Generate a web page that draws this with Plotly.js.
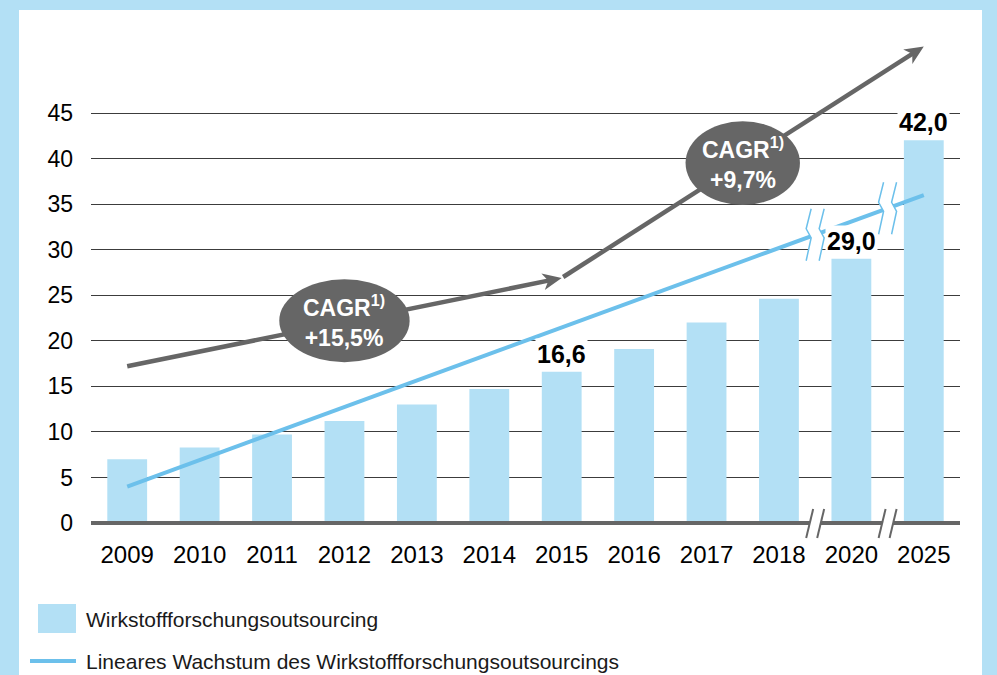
<!DOCTYPE html>
<html><head><meta charset="utf-8">
<script src="https://cdn.plot.ly/plotly-3.0.1.min.js"></script>
<style>html,body{margin:0;padding:0;background:#B3E0F5;} #chart{width:997px;height:675px;}</style>
</head><body><div id="chart"></div>
<script>
// ---- data ----
const years = ['2009','2010','2011','2012','2013','2014','2015','2016','2017','2018','2020','2025'];
const outsourcing = [7.0, 8.3, 9.7, 11.2, 13.0, 14.7, 16.6, 19.1, 22.0, 24.6, 29.0, 42.0];
const labelYears = ['2015','2020','2025'];
const labelTexts = ['16,6','29,0','42,0'];
const trendYears = ['2009','2025'];
const trendValues = [4.0, 36.0];
const breakAfter = ['2018','2020'];
const cagrTexts = ['CAGR<sup>1)</sup><br>+15,5%', 'CAGR<sup>1)</sup><br>+9,7%'];
const cagrFromYear = ['2009','2015'];
const cagrFromValue = [17.2, 27.0];
const cagrToYear = ['2015','2025'];
const cagrToValue = [26.9, 52.3];
const cagrBubbleYear = ['2012','2017'];
const cagrBubbleShift = [0, 0.5];
const cagrBubbleValue = [22.2, 39.5];
const legendNames = ['Wirkstoffforschungsoutsourcing','Lineares Wachstum des Wirkstoffforschungsoutsourcings'];
const yTicks = [0,5,10,15,20,25,30,35,40,45];

// ---- styling / geometry ----
const FONT = 'Liberation Sans, Arial, sans-serif';
const BAR = '#B3E0F5', LINE = '#6CC0EB', GRAY = '#666666';
const M = {l:91, r:37, t:108, b:152};
const W = 997 - M.l - M.r, H = 675 - M.t - M.b;
const YMAX = 45.55;
const N = years.length;
const idx = y => years.indexOf(y);
const xp = i => (i + 0.5) / N;          // category index -> paper
const yp = v => v / YMAX;               // value -> paper
const pX = px => (px - M.l) / W;        // page px -> paper
const pY = py => (675 - M.b - py) / H;
const pxPerIdx = W / N, pxPerVal = H / YMAX;

const shapes = [];
// white panel
shapes.push({type:'rect', layer:'below', xref:'paper', yref:'paper', x0:pX(19), x1:pX(982), y0:pY(690), y1:pY(10), fillcolor:'white', line:{width:0}});
// axis line
shapes.push({type:'line', layer:'above', xref:'paper', yref:'paper', x0:0, x1:1, y0:0, y1:0, line:{color:GRAY, width:4}});

function pixPath(pts, close){
  return 'M' + pts.map(p => p[0].toFixed(2)+','+p[1].toFixed(2)).join(' L') + (close ? ' Z' : '');
}
function pixShape(ax, ay, pts, close, fill, lineSpec){
  return {type:'path', layer:'above', xref:'paper', yref:'paper', xsizemode:'pixel', ysizemode:'pixel',
    xanchor:ax, yanchor:ay, path:pixPath(pts, close), fillcolor:fill, line:lineSpec};
}
const i0 = idx(trendYears[0]), i1 = idx(trendYears[1]);
const trendAt = i => trendValues[0] + (trendValues[1]-trendValues[0]) * (i - i0) / (i1 - i0);

breakAfter.forEach(y => {
  const bi = idx(y) + 0.5;
  // axis break
  const A = [[-9,-15],[-2,14]], B = [[2,-15],[9,14]];
  shapes.push(pixShape(xp(bi), 0, [A[0],A[1],B[1],B[0]], true, 'white', {width:0}));
  shapes.push(pixShape(xp(bi), 0, A, false, 'rgba(0,0,0,0)', {color:GRAY, width:2}));
  shapes.push(pixShape(xp(bi), 0, B, false, 'rgba(0,0,0,0)', {color:GRAY, width:2}));
  // trend line break
  const zig = dx => [[dx+3, 26],[dx-2, 6],[dx+3, -3],[dx-2, -26]];
  const L1 = zig(-7), R1 = zig(6);
  const ty = yp(trendAt(bi));
  shapes.push(pixShape(xp(bi), ty, L1.concat(R1.slice().reverse()), true, 'white', {width:0}));
  shapes.push(pixShape(xp(bi), ty, L1, false, 'rgba(0,0,0,0)', {color:LINE, width:1.5}));
  shapes.push(pixShape(xp(bi), ty, R1, false, 'rgba(0,0,0,0)', {color:LINE, width:1.5}));
});

// CAGR arrows
for (let k = 0; k < cagrTexts.length; k++) {
  const a = idx(cagrFromYear[k]) + (k === 1 ? 0.02 : 0), b = idx(cagrToYear[k]);
  const dx = (b - a) * pxPerIdx, dy = (cagrToValue[k] - cagrFromValue[k]) * pxPerVal;
  const len = Math.hypot(dx, dy), ux = dx/len, uy = dy/len;
  const hx = xp(b), hy = yp(cagrToValue[k]);
  shapes.push({type:'line', layer:'above', xref:'paper', yref:'paper',
    x0:xp(a), y0:yp(cagrFromValue[k]), x1:hx - ux*10/W, y1:hy - uy*10/H,
    line:{color:GRAY, width:4.5}});
  const Lh = 19, wh = 8.5, nx = -uy, ny = ux;
  shapes.push(pixShape(hx, hy, [[0,0],[-Lh*ux + wh*nx, -Lh*uy + wh*ny],[-0.72*Lh*ux, -0.72*Lh*uy],[-Lh*ux - wh*nx, -Lh*uy - wh*ny]], true, GRAY, {width:0}));
}
// CAGR bubbles
const bubbleR = [[0.9, 4.55],[0.79, 4.6]];
for (let k = 0; k < cagrTexts.length; k++) {
  const cx = idx(cagrBubbleYear[k]) + cagrBubbleShift[k], cy = cagrBubbleValue[k];
  shapes.push({type:'circle', layer:'above', xref:'paper', yref:'paper',
    x0:xp(cx - bubbleR[k][0]), x1:xp(cx + bubbleR[k][0]), y0:yp(cy - bubbleR[k][1]), y1:yp(cy + bubbleR[k][1]),
    fillcolor:GRAY, line:{width:0}});
}
// legend swatches
shapes.push({type:'rect', layer:'above', xref:'paper', yref:'paper', x0:pX(38), x1:pX(76), y0:pY(633), y1:pY(604), fillcolor:BAR, line:{width:0}});
shapes.push({type:'line', layer:'above', xref:'paper', yref:'paper', x0:pX(30), x1:pX(76), y0:pY(661), y1:pY(661), line:{color:LINE, width:4}});

const annotations = [];
labelYears.forEach((y, k) => {
  annotations.push({xref:'paper', yref:'paper', x:xp(idx(y)), y:yp(outsourcing[idx(y)]), text:'<b>'+labelTexts[k]+'</b>', showarrow:false,
    xanchor:'center', yanchor:'bottom', yshift:2, bgcolor:'white', borderpad:1, font:{family:FONT, size:25, color:'#000'}});
});
for (let k = 0; k < cagrTexts.length; k++) {
  annotations.push({xref:'paper', yref:'paper', x:xp(idx(cagrBubbleYear[k]) + cagrBubbleShift[k]), y:yp(cagrBubbleValue[k]),
    text:'<b>'+cagrTexts[k]+'</b>', showarrow:false, align:'center', xanchor:'center', yanchor:'middle',
    font:{family:FONT, size:23, color:'white'}});
}
legendNames.forEach((t, k) => {
  annotations.push({xref:'paper', yref:'paper', x:pX(84), y:pY(k === 0 ? 619 : 661), xanchor:'left', yanchor:'middle',
    text:t, showarrow:false, font:{family:FONT, size:21, color:'#1a1a1a'}});
});

const traces = [
  {type:'bar', x:years, y:outsourcing, name:legendNames[0], marker:{color:BAR}, hoverinfo:'x+y'},
  {type:'scatter', mode:'lines', x:trendYears, y:trendValues, name:legendNames[1], line:{color:LINE, width:4}},
  {type:'scatter', mode:'markers', x:years, y:years.map(() => -0.5), cliponaxis:false, hoverinfo:'skip',
    marker:{symbol:'triangle-down', size:18, color:GRAY}, showlegend:false}
];

const layout = {
  width:997, height:675, margin:M, showlegend:false,
  paper_bgcolor:BAR, plot_bgcolor:'rgba(0,0,0,0)', bargap:0.45,
  font:{family:FONT, color:'#000'},
  xaxis:{type:'category', categoryorder:'array', categoryarray:years, range:[-0.5, N-0.5],
    showgrid:false, zeroline:false, showline:false, ticks:'', ticklabelstandoff:15,
    tickfont:{family:FONT, size:24, color:'#000'}},
  yaxis:{range:[0, YMAX], tickvals:yTicks, showgrid:true, gridcolor:'#3c3c3c', gridwidth:1,
    zeroline:false, showline:false, ticks:'', ticklabelstandoff:17,
    tickfont:{family:FONT, size:23, color:'#000'}},
  shapes:shapes, annotations:annotations
};
Plotly.newPlot('chart', traces, layout, {displayModeBar:false, staticPlot:true});
</script></body></html>
